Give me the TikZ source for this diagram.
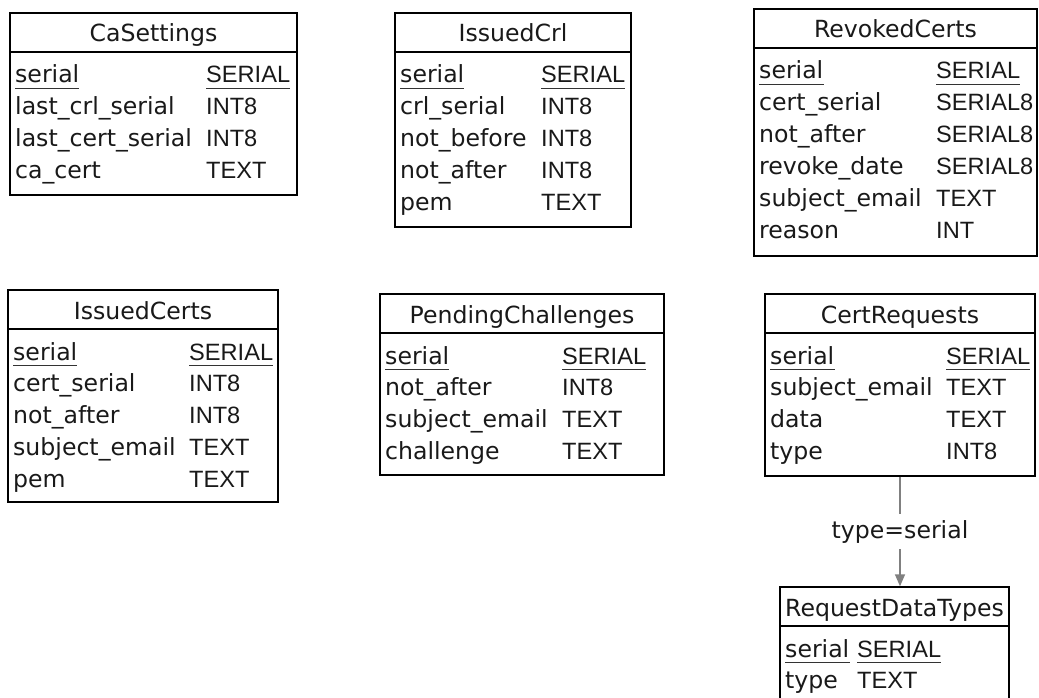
\documentclass[tikz,border=0pt]{standalone}
\usepackage{fontspec}
\setmainfont{DejaVu Sans}
\newfontfamily\typefont{Liberation Sans}
\usetikzlibrary{arrows.meta,fit}

\tikzset{
  tblbox/.style={draw=black, line width=1.4pt, inner sep=0pt, fill=none},
  tblrule/.style={draw=black, line width=1.4pt},
  keyline/.style={draw=black!80, line width=1.8pt},
  tbltitle/.style={inner sep=0pt, font=\fontsize{23.6}{28}\selectfont, text=black!90},
  colname/.style={inner sep=0pt, anchor=base west, font=\fontsize{23.6}{28}\selectfont, text=black!90},
  coltype/.style={inner sep=0pt, anchor=base west, font=\typefont\fontsize{23.6}{28}\selectfont, text=black!90},
  relation/.style={draw=black!50, line width=1.5pt, -{Triangle[length=12pt,width=10pt]}},
  rellabel/.style={fill=white, inner xsep=2pt, inner ysep=6pt, font=\fontsize{23.6}{28}\selectfont, text=black!90},
}

% #1 id, #2 left, #3 top, #4 right, #5 type column x, #6 bottom, #7 title, #8 name/type rows
\newcommand\dbtable[8]{%
  \coordinate (#1-nw) at (#2,#3);
  \coordinate (#1-se) at (#4,#6);
  \node[tblbox, fit=(#1-nw)(#1-se)] (#1) {};
  \node[tbltitle, anchor=base] (#1-title) at ({(#2+#4)/2},#3+29) {#7};
  \draw[tblrule] (#1.west |- 0,#3+39) -- (#1.east |- 0,#3+39);
  \foreach \cname/\ctype [count=\i from 0] in {#8} {
    \node[colname] (#1-n\i) at (#2+5,#3+70+31.8*\i) {\cname};
    \node[coltype] (#1-t\i) at (#5-1,#3+70+31.8*\i) {\ctype};
  }
  \draw[keyline] ([yshift=-5.5pt]#1-n0.base west) -- ([yshift=-5.5pt]#1-n0.base east);
  \draw[keyline] ([yshift=-5.5pt]#1-t0.base west) -- ([yshift=-5.5pt]#1-t0.base east);
}

\begin{document}
\begin{tikzpicture}[x=1pt, y=-1pt]
  \clip (0,0) rectangle (1039,698);
  \fill[white] (0,0) rectangle (1039,698);

  \dbtable{cas}{10}{13}{297}{207}{195}{CaSettings}
    {serial/SERIAL, last\_crl\_serial/INT8, last\_cert\_serial/INT8, ca\_cert/TEXT}
  \dbtable{crl}{395}{13}{631}{542}{227}{IssuedCrl}
    {serial/SERIAL, crl\_serial/INT8, not\_before/INT8, not\_after/INT8, pem/TEXT}
  \dbtable{rev}{754}{9}{1037}{937}{256}{RevokedCerts}
    {serial/SERIAL, cert\_serial/SERIAL8, not\_after/SERIAL8, revoke\_date/SERIAL8, subject\_email/TEXT, reason/INT}
  \dbtable{iss}{8}{290}{278}{190}{502}{IssuedCerts}
    {serial/SERIAL, cert\_serial/INT8, not\_after/INT8, subject\_email/TEXT, pem/TEXT}
  \dbtable{pch}{380}{294}{664}{563}{475}{PendingChallenges}
    {serial/SERIAL, not\_after/INT8, subject\_email/TEXT, challenge/TEXT}
  \dbtable{crq}{765}{294}{1035}{947}{476}{CertRequests}
    {serial/SERIAL, subject\_email/TEXT, data/TEXT, type/INT8}
  \dbtable{rdt}{780}{587}{1009}{858}{705}{RequestDataTypes}
    {serial/SERIAL, type/TEXT}

  \draw[relation] (crq.south) -- node[rellabel] (rel) {type=serial} (crq.south |- rdt.north);
\end{tikzpicture}
\end{document}
